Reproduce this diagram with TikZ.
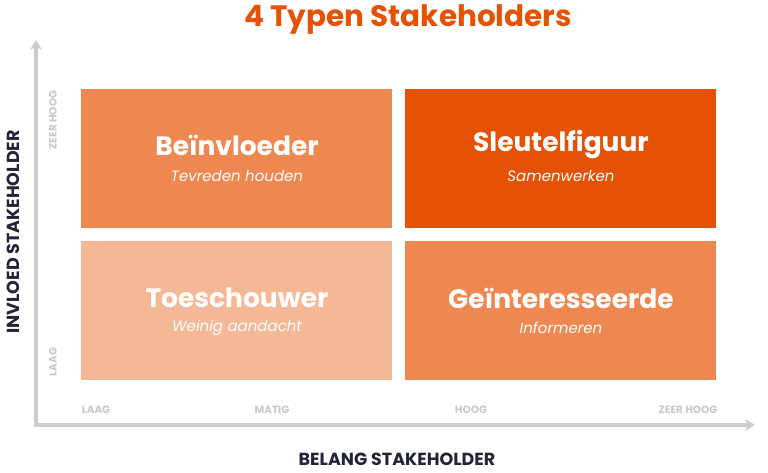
\documentclass[tikz,border=0pt]{standalone}
\usepackage{fontspec}
\setmainfont{Poppins}
\usetikzlibrary{arrows.meta}
\definecolor{mid}{HTML}{EE8850}
\definecolor{dark}{HTML}{E55205}
\definecolor{light}{HTML}{F4B896}
\definecolor{axis}{HTML}{CCCCCC}
\definecolor{navy}{HTML}{23233A}
\definecolor{tick}{HTML}{C8C8C8}
\begin{document}
\begin{tikzpicture}[x=1pt,y=-1pt,
  box/.style={minimum width=311pt,minimum height=139pt,inner sep=0,anchor=north west},
  ttl/.style={text=white,font=\fontsize{26.5}{30}\selectfont\bfseries},
  sub/.style={text=white,font=\fontsize{15}{17}\selectfont\itshape},
  tk/.style={text=tick,font=\fontsize{10.5}{12}\selectfont\bfseries},
  ax/.style={text=navy,font=\fontsize{17.5}{20}\selectfont\bfseries}]
\useasboundingbox (0,0) rectangle (768,472);
\node[text=dark,font=\fontsize{29.5}{32}\selectfont\bfseries] (title) at (408,20) {4 Typen Stakeholders};
\coordinate (o) at (36,425);
\coordinate (ytop) at (36,40);
\coordinate (xend) at (755,425);
\draw[axis,line width=3.5pt,-{Stealth[length=10pt,width=12pt]}] (o) -- (ytop);
\draw[axis,line width=3.5pt,-{Stealth[length=10pt,width=12pt]}] ([xshift=-1.75pt]o) -- (xend);
\node[box,fill=mid] (b1) at (81,89) {};
\node[box,fill=dark] (b2) at (405,89) {};
\node[box,fill=light] (b3) at (81,241) {};
\node[box,fill=mid] (b4) at (405,241) {};
\node[ttl] (t1) at (237,145) {Beïnvloeder};
\node[sub] (s1) at (237,176) {Tevreden houden};
\node[ttl] (t2) at (561,145) {Sleutelfiguur};
\node[sub] (s2) at (561,176) {Samenwerken};
\node[ttl] (t3) at (237,298) {Toeschouwer};
\node[sub] (s3) at (237,328) {Weinig aandacht};
\node[ttl] (t4) at (561,298) {Geïnteresseerde};
\node[sub] (s4) at (561,328) {Informeren};
\node[tk,rotate=90] (zh) at (53,120) {ZEER HOOG};
\node[tk,rotate=90] (ll) at (53,362) {LAAG};
\node[tk] (x1) at (96,410) {LAAG};
\node[tk] (x2) at (272,410) {MATIG};
\node[tk] (x3) at (471,410) {HOOG};
\node[tk] (x4) at (688,410) {ZEER HOOG};
\node[ax,rotate=90] (yl) at (13,232) {INVLOED STAKEHOLDER};
\node[ax] (xl) at (397,459) {BELANG STAKEHOLDER};
\end{tikzpicture}
\end{document}
